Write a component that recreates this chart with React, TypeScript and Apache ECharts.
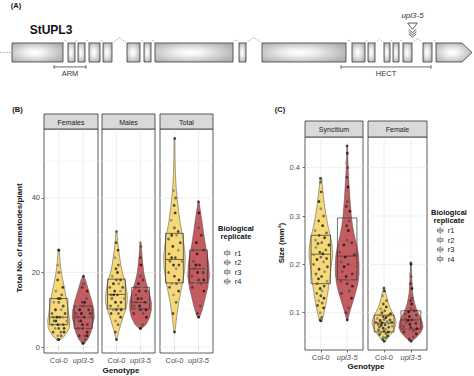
import React, { useEffect, useRef } from 'react';
import * as echarts from 'echarts';

// ---------------- DATA ----------------
const GENOTYPES = ['Col-0', 'upl3-5'];
const REPLICATES = ['r1', 'r2', 'r3', 'r4'];

// Panel A: gene model (positions in gene-drawing units)
const EXONS = [[12, 63], [68, 75], [78, 85], [89, 100], [103, 112], [127, 140], [144, 151], [155, 233], [239, 246], [262, 346], [352, 365], [368, 375], [384, 390], [393, 399], [403, 412], [423, 432], [436, 472]];
const DOMAINS = [['ARM', 54, 86], ['HECT', 341, 431]];
const MUTATION_NAME = 'upl3-5';
const MUTATION_POS = 412.5;

// Panel B
const B_FACETS = ['Females', 'Males', 'Total'];
const B_MAJOR = [0, 20, 40];
const B_MINOR = [10, 30, 50];

const FEMALES_COL0 = [2, 2, 3, 3, 4, 4, 4, 5, 5, 5, 6, 6, 6, 6, 7, 7, 7, 8, 8, 8, 8, 9, 9, 10, 10, 11, 12, 12, 13, 13, 14, 15, 16, 18, 20, 22, 26, 26];
const FEMALES_UPL = [1, 1, 2, 2, 3, 3, 3, 4, 4, 5, 5, 5, 6, 6, 7, 7, 7, 8, 8, 8, 9, 9, 9, 10, 10, 10, 11, 11, 12, 12, 13, 14, 15, 16, 17, 18, 19];
const MALES_COL0 = [2, 4, 6, 7, 8, 9, 9, 10, 10, 10, 11, 11, 12, 12, 13, 13, 14, 14, 14, 15, 15, 16, 16, 17, 17, 18, 18, 19, 20, 21, 22, 24, 26, 28, 31];
const MALES_UPL = [5, 5, 6, 7, 8, 9, 9, 10, 10, 10, 11, 11, 11, 12, 12, 12, 13, 13, 14, 14, 15, 15, 16, 16, 17, 18, 19, 20, 22, 24, 27, 28];
const TOTAL_COL0 = [4, 9, 12, 14, 15, 16, 17, 17, 18, 19, 20, 21, 22, 22, 23, 23, 24, 24, 25, 26, 27, 28, 29, 30, 30, 31, 32, 34, 36, 38, 40, 42, 56];
const TOTAL_UPL = [8, 9, 11, 13, 15, 16, 17, 17, 18, 18, 19, 19, 20, 20, 21, 21, 22, 22, 23, 24, 25, 26, 26, 27, 28, 30, 32, 34, 36, 39];

// box stats [q1, median, q3]
const FEMALES_COL0_BOX = [6, 8, 13];
const FEMALES_UPL_BOX = [5, 8, 11];
const MALES_COL0_BOX = [10.2, 14.1, 18.2];
const MALES_UPL_BOX = [10.2, 12, 16];
const TOTAL_COL0_BOX = [17.2, 23.5, 30.5];
const TOTAL_UPL_BOX = [17.2, 21, 26];

// violin outlines [value, relative half-width]
const FEMALES_COL0_VIOLIN = [[1.9, 0.12], [3, 0.55], [5, 0.95], [7, 1.0], [9, 0.9], [11, 0.8], [13, 0.7], [15, 0.58], [17, 0.44], [19, 0.3], [21, 0.2], [23, 0.12], [26.3, 0.05]];
const FEMALES_UPL_VIOLIN = [[1, 0.12], [2, 0.4], [4, 0.7], [6, 0.85], [8, 1.0], [10, 0.95], [12, 0.8], [14, 0.6], [16, 0.4], [18, 0.2], [19, 0.05]];
const MALES_COL0_VIOLIN = [[2, 0.05], [4, 0.2], [6, 0.4], [8, 0.6], [10, 0.85], [12, 1.0], [14, 1.0], [16, 0.9], [18, 0.75], [20, 0.55], [22, 0.4], [24, 0.3], [26, 0.2], [28, 0.12], [31, 0.05]];
const MALES_UPL_VIOLIN = [[5, 0.1], [6, 0.5], [8, 0.85], [10, 1.0], [12, 1.0], [14, 0.85], [16, 0.65], [18, 0.45], [20, 0.3], [22, 0.22], [24, 0.15], [26, 0.1], [28, 0.04]];
const TOTAL_COL0_VIOLIN = [[4, 0.05], [8, 0.2], [12, 0.4], [15, 0.6], [18, 0.8], [21, 0.95], [24, 1.0], [27, 0.9], [30, 0.75], [33, 0.55], [36, 0.4], [39, 0.28], [42, 0.18], [46, 0.1], [50, 0.06], [56, 0.04]];
const TOTAL_UPL_VIOLIN = [[8, 0.1], [10, 0.35], [13, 0.6], [16, 0.85], [19, 1.0], [22, 0.95], [25, 0.8], [28, 0.6], [31, 0.45], [34, 0.3], [37, 0.15], [39, 0.05]];

// Panel C
const C_FACETS = ['Syncitium', 'Female'];
const C_MAJOR = [0.1, 0.2, 0.3, 0.4];
const C_MINOR = [0.05, 0.15, 0.25, 0.35, 0.45];

const SYN_COL0 = [0.083, 0.085, 0.09, 0.1, 0.11, 0.115, 0.12, 0.125, 0.13, 0.135, 0.14, 0.145, 0.15, 0.155, 0.16, 0.165, 0.17, 0.175, 0.18, 0.185, 0.19, 0.195, 0.2, 0.205, 0.21, 0.212, 0.215, 0.22, 0.222, 0.225, 0.23, 0.235, 0.24, 0.243, 0.245, 0.25, 0.255, 0.26, 0.265, 0.27, 0.28, 0.29, 0.3, 0.315, 0.33, 0.35, 0.37, 0.375, 0.378];
const SYN_UPL = [0.085, 0.1, 0.11, 0.12, 0.13, 0.14, 0.145, 0.15, 0.155, 0.16, 0.165, 0.17, 0.175, 0.18, 0.185, 0.19, 0.195, 0.2, 0.205, 0.21, 0.215, 0.22, 0.225, 0.23, 0.24, 0.245, 0.25, 0.26, 0.27, 0.28, 0.29, 0.3, 0.31, 0.32, 0.33, 0.345, 0.36, 0.38, 0.4, 0.41, 0.43, 0.445];
const FEM_COL0 = [0.041, 0.045, 0.048, 0.05, 0.052, 0.055, 0.057, 0.06, 0.06, 0.062, 0.064, 0.066, 0.068, 0.07, 0.07, 0.072, 0.074, 0.075, 0.076, 0.078, 0.079, 0.08, 0.08, 0.082, 0.084, 0.085, 0.086, 0.088, 0.09, 0.092, 0.094, 0.095, 0.098, 0.1, 0.104, 0.108, 0.112, 0.118, 0.125, 0.135, 0.145, 0.151];
const FEM_UPL = [0.041, 0.045, 0.05, 0.053, 0.056, 0.06, 0.062, 0.065, 0.067, 0.07, 0.072, 0.074, 0.076, 0.078, 0.08, 0.082, 0.084, 0.085, 0.087, 0.09, 0.092, 0.095, 0.097, 0.1, 0.102, 0.104, 0.108, 0.112, 0.118, 0.125, 0.13, 0.14, 0.15, 0.16, 0.175, 0.18, 0.2, 0.203];

const SYN_COL0_BOX = [0.16, 0.221, 0.26];
const SYN_UPL_BOX = [0.168, 0.217, 0.296];
const FEM_COL0_BOX = [0.06, 0.079, 0.095];
const FEM_UPL_BOX = [0.066, 0.085, 0.104];

const SYN_COL0_VIOLIN = [[0.083, 0.1], [0.1, 0.28], [0.12, 0.45], [0.14, 0.58], [0.16, 0.7], [0.18, 0.8], [0.2, 0.9], [0.22, 1.0], [0.24, 0.95], [0.26, 0.8], [0.28, 0.6], [0.3, 0.45], [0.32, 0.32], [0.34, 0.22], [0.36, 0.14], [0.378, 0.06]];
const SYN_UPL_VIOLIN = [[0.085, 0.05], [0.1, 0.2], [0.12, 0.45], [0.14, 0.7], [0.16, 0.9], [0.18, 1.0], [0.2, 1.0], [0.22, 0.95], [0.24, 0.8], [0.26, 0.6], [0.28, 0.45], [0.3, 0.35], [0.33, 0.25], [0.36, 0.17], [0.39, 0.1], [0.42, 0.06], [0.447, 0.03]];
const FEM_COL0_VIOLIN = [[0.041, 0.1], [0.05, 0.4], [0.06, 0.7], [0.07, 0.9], [0.08, 1.0], [0.09, 0.9], [0.1, 0.7], [0.11, 0.5], [0.12, 0.35], [0.13, 0.25], [0.14, 0.15], [0.151, 0.05]];
const FEM_UPL_VIOLIN = [[0.041, 0.1], [0.05, 0.5], [0.06, 0.85], [0.07, 1.0], [0.08, 0.95], [0.09, 0.8], [0.1, 0.6], [0.11, 0.42], [0.12, 0.3], [0.13, 0.22], [0.14, 0.15], [0.16, 0.1], [0.18, 0.06], [0.203, 0.03]];

// ---------------- STYLE / LAYOUT ----------------
const FONT = 'Liberation Sans';
const FILLS = ['#f6d877', '#c65a5e'];
const REP_COLORS = ['#111111', '#2e2e2e', '#4d4d4d', '#7f7f7f'];
const JITTER = [0.1, -0.6, 0.45, -0.2, 0.75, -0.8, 0.3, -0.4, 0.6, 0, -0.7, 0.2, -0.1, 0.5, -0.5, 0.85, -0.3];
const VW = 0.45; // violin max half-width (x units)
const BW = 0.37; // box half-width

const B_PANELS = [[44, 98], [102, 155], [160, 213]];
const B_TOP = 129, B_BOTTOM = 353, B_STRIP = 114;
const B_YMIN = -1.61, B_YMAX = 58.52;
const C_PANELS = [[305, 363], [368, 427]];
const C_TOP = 137, C_BOTTOM = 350, C_STRIP = 121;
const C_YMIN = 0.0228, C_YMAX = 0.4635;

type Group = { pts: number[]; box: number[]; violin: number[][] };
const B_GROUPS: Group[][] = [
  [{ pts: FEMALES_COL0, box: FEMALES_COL0_BOX, violin: FEMALES_COL0_VIOLIN }, { pts: FEMALES_UPL, box: FEMALES_UPL_BOX, violin: FEMALES_UPL_VIOLIN }],
  [{ pts: MALES_COL0, box: MALES_COL0_BOX, violin: MALES_COL0_VIOLIN }, { pts: MALES_UPL, box: MALES_UPL_BOX, violin: MALES_UPL_VIOLIN }],
  [{ pts: TOTAL_COL0, box: TOTAL_COL0_BOX, violin: TOTAL_COL0_VIOLIN }, { pts: TOTAL_UPL, box: TOTAL_UPL_BOX, violin: TOTAL_UPL_VIOLIN }],
];
const C_GROUPS: Group[][] = [
  [{ pts: SYN_COL0, box: SYN_COL0_BOX, violin: SYN_COL0_VIOLIN }, { pts: SYN_UPL, box: SYN_UPL_BOX, violin: SYN_UPL_VIOLIN }],
  [{ pts: FEM_COL0, box: FEM_COL0_BOX, violin: FEM_COL0_VIOLIN }, { pts: FEM_UPL, box: FEM_UPL_BOX, violin: FEM_UPL_VIOLIN }],
];

function hwAt(profile: number[][], v: number) {
  if (v <= profile[0][0]) return profile[0][1];
  for (let i = 1; i < profile.length; i++) {
    const [v1, w1] = profile[i];
    const [v0, w0] = profile[i - 1];
    if (v <= v1) return w0 + ((w1 - w0) * (v - v0)) / (v1 - v0);
  }
  return profile[profile.length - 1][1];
}

function gridSeries(idx: number, major: number[], minor: number[]) {
  const lines: any[] = [];
  major.forEach((v) => lines.push({ v, minor: false, h: true }));
  minor.forEach((v) => lines.push({ v, minor: true, h: true }));
  [1, 2].forEach((v) => lines.push({ v, minor: false, h: false }));
  return {
    type: 'custom', xAxisIndex: idx, yAxisIndex: idx, z: 1, silent: true,
    data: lines.map((l, i) => [i]),
    renderItem: (params: any, api: any) => {
      const l = lines[params.dataIndex];
      const cs = params.coordSys;
      const style = { stroke: l.minor ? '#f3f3f3' : '#ebebeb', lineWidth: l.minor ? 0.5 : 0.8 };
      if (l.h) {
        const y = api.coord([1, l.v])[1];
        return { type: 'line', shape: { x1: cs.x, y1: y, x2: cs.x + cs.width, y2: y }, style };
      }
      const x = api.coord([l.v, 0])[0];
      return { type: 'line', shape: { x1: x, y1: cs.y, x2: x, y2: cs.y + cs.height }, style };
    },
  };
}

function violinSeries(idx: number, groups: Group[]) {
  return {
    type: 'custom', xAxisIndex: idx, yAxisIndex: idx, z: 2, silent: true,
    data: groups.map((g, i) => [i + 1, g.box[1]]),
    renderItem: (params: any, api: any) => {
      const gi = params.dataIndex;
      const g = groups[gi];
      const c = gi + 1;
      const right = g.violin.map(([v, w]) => api.coord([c + w * VW, v]));
      const left = g.violin.slice().reverse().map(([v, w]) => api.coord([c - w * VW, v]));
      const p1 = api.coord([c - BW, g.box[2]]);
      const p2 = api.coord([c + BW, g.box[0]]);
      const m1 = api.coord([c - BW, g.box[1]]);
      const m2 = api.coord([c + BW, g.box[1]]);
      return {
        type: 'group', children: [
          { type: 'polygon', shape: { points: [...right, ...left] }, style: { fill: FILLS[gi], stroke: '#4a4a4a', lineWidth: 0.5 } },
          { type: 'rect', shape: { x: p1[0], y: p1[1], width: p2[0] - p1[0], height: p2[1] - p1[1] }, style: { fill: 'none', stroke: '#333', lineWidth: 0.7 } },
          { type: 'line', shape: { x1: m1[0], y1: m1[1], x2: m2[0], y2: m2[1] }, style: { stroke: '#333', lineWidth: 0.7 } },
        ],
      };
    },
  };
}

function pointSeries(idx: number, groups: Group[]) {
  return REPLICATES.map((name, r) => {
    const data: number[][] = [];
    groups.forEach((g, gi) => {
      g.pts.forEach((v, i) => {
        if (i % 4 !== r) return;
        const off = JITTER[i % JITTER.length] * VW * hwAt(g.violin, v) * 0.85;
        data.push([gi + 1 + off, v]);
      });
    });
    return {
      type: 'scatter', name, xAxisIndex: idx, yAxisIndex: idx, z: 3, silent: true,
      symbolSize: 2.8, data,
      itemStyle: { color: REP_COLORS[r], opacity: 0.8 },
    };
  });
}

const AXIS_LABEL = { fontSize: 7.5, color: '#4d4d4d', fontFamily: FONT };
const ITALIC_RICH = { i: { fontStyle: 'italic', fontSize: 7.5, color: '#4d4d4d', fontFamily: FONT } };

function buildOption() {
  const grids: any[] = [];
  const xAxes: any[] = [];
  const yAxes: any[] = [];
  const series: any[] = [];
  const graphics: any[] = [];

  const addPanel = (x0: number, x1: number, top: number, bottom: number, ymin: number, ymax: number, showY: boolean, yMajor: number[], yMinor: number[], groups: Group[], yFmt: (v: number) => string, yMargin: number) => {
    const idx = grids.length;
    grids.push({ left: x0, top, width: x1 - x0, height: bottom - top, show: true, borderColor: '#333', borderWidth: 0.8, backgroundColor: '#fff' });
    xAxes.push({
      type: 'value', gridIndex: idx, min: 0.4, max: 2.6,
      axisLine: { show: false }, splitLine: { show: false },
      axisTick: { show: true, length: 2.5, customValues: [1, 2], lineStyle: { color: '#333', width: 0.7 } },
      axisLabel: { ...AXIS_LABEL, margin: 3, customValues: [1, 2], formatter: (v: number) => (v === 1 ? GENOTYPES[0] : '{i|' + GENOTYPES[1] + '}'), rich: ITALIC_RICH },
    });
    yAxes.push({
      type: 'value', gridIndex: idx, min: ymin, max: ymax,
      axisLine: { show: false }, splitLine: { show: false },
      axisTick: { show: showY, length: 2.5, customValues: yMajor, lineStyle: { color: '#333', width: 0.7 } },
      axisLabel: { ...AXIS_LABEL, show: showY, margin: yMargin, customValues: yMajor, formatter: yFmt },
    });
    series.push(gridSeries(idx, yMajor, yMinor));
    series.push(violinSeries(idx, groups));
    series.push(...pointSeries(idx, groups));
  };

  B_PANELS.forEach(([x0, x1], i) => addPanel(x0, x1, B_TOP, B_BOTTOM, B_YMIN, B_YMAX, i === 0, B_MAJOR, B_MINOR, B_GROUPS[i], (v) => String(v), 4));
  C_PANELS.forEach(([x0, x1], i) => addPanel(x0, x1, C_TOP, C_BOTTOM, C_YMIN, C_YMAX, i === 0, C_MAJOR, C_MINOR, C_GROUPS[i], (v) => v.toFixed(1), 5));

  // strips
  const strip = (x0: number, x1: number, y0: number, y1: number, label: string) => {
    graphics.push({ type: 'rect', shape: { x: x0, y: y0, width: x1 - x0, height: y1 - y0 }, style: { fill: '#d9d9d9', stroke: '#333', lineWidth: 0.8 }, z: 10 });
    graphics.push({ type: 'text', x: (x0 + x1) / 2, y: (y0 + y1) / 2 + 0.5, style: { text: label, fill: '#1a1a1a', fontSize: 7, fontFamily: FONT, align: 'center', verticalAlign: 'middle' }, z: 11 });
  };
  B_PANELS.forEach(([x0, x1], i) => strip(x0, x1, B_STRIP, B_TOP, B_FACETS[i]));
  C_PANELS.forEach(([x0, x1], i) => strip(x0, x1, C_STRIP, C_TOP, C_FACETS[i]));

  const txt = (x: number, y: number, text: string, size: number, weight: string, extra: any = {}) => ({
    type: 'text', x, y, z: 12, ...extra,
    style: { text, fill: '#111', fontSize: size, fontWeight: weight, fontFamily: FONT, align: 'center', verticalAlign: 'middle', ...(extra.style || {}) },
  });
  graphics.push(txt(16, 5.5, '(A)', 7.5, 'bold'));
  graphics.push(txt(51, 29.5, 'StUPL3', 12, 'bold'));
  graphics.push(txt(17.5, 109.5, '(B)', 7.5, 'bold'));
  graphics.push(txt(280, 109.5, '(C)', 7.5, 'bold'));
  graphics.push(txt(19, 238, 'Total No. of nematodes/plant', 8, 'bold', { rotation: Math.PI / 2 }));
  graphics.push(txt(281, 243, 'Size (mm²)', 8, 'bold', { rotation: Math.PI / 2 }));
  graphics.push(txt(121, 370, 'Genotype', 8, 'bold'));
  graphics.push(txt(366, 366.5, 'Genotype', 8, 'bold'));
  graphics.push(txt(236, 228.5, 'Biological', 7.5, 'bold'));
  graphics.push(txt(236, 236.5, 'replicate', 7.5, 'bold'));
  graphics.push(txt(449, 212, 'Biological', 7.5, 'bold'));
  graphics.push(txt(449, 220, 'replicate', 7.5, 'bold'));

  // gene model grid
  const gIdx = grids.length;
  grids.push({ left: 0, top: 43, width: 474, height: 19, show: false });
  xAxes.push({ type: 'value', gridIndex: gIdx, min: 0, max: 474, show: false });
  yAxes.push({ type: 'value', gridIndex: gIdx, min: 0, max: 1, show: false });

  const exonFill = () => new echarts.graphic.RadialGradient(0.45, 0.5, 0.62, [{ offset: 0, color: '#ffffff' }, { offset: 0.25, color: '#f4f4f4' }, { offset: 1, color: '#b0b0b0' }]);
  // introns + flanking line
  series.push({
    type: 'custom', xAxisIndex: gIdx, yAxisIndex: gIdx, z: 2, silent: true,
    data: EXONS.map((e, i) => [e[0], i]),
    renderItem: (params: any, api: any) => {
      const i = params.dataIndex;
      if (i === 0) {
        const a = api.coord([0, 0.5]);
        const b = api.coord([EXONS[0][0], 0.5]);
        return { type: 'line', shape: { x1: a[0], y1: a[1], x2: b[0], y2: b[1] }, style: { stroke: '#888', lineWidth: 0.7, lineDash: [1.5, 1.5] } };
      }
      const s = EXONS[i - 1][1];
      const e = EXONS[i][0];
      const gap = e - s;
      const peak = 1 + (2 + gap * 0.22) / 19;
      return {
        type: 'polyline',
        shape: { points: [api.coord([s, 1]), api.coord([(s + e) / 2, peak]), api.coord([e, 1])] },
        style: { stroke: '#888', lineWidth: 0.7, lineDash: [1.5, 1.2], fill: null },
      };
    },
  });
  // exons
  series.push({
    type: 'custom', xAxisIndex: gIdx, yAxisIndex: gIdx, z: 3, silent: true,
    data: EXONS.map((e) => [e[0], 0]),
    renderItem: (params: any, api: any) => {
      const [s, e] = EXONS[params.dataIndex];
      const last = params.dataIndex === EXONS.length - 1;
      const style = { fill: exonFill(), stroke: '#3a3a3a', lineWidth: 0.8 };
      if (last) {
        const tip = e - 10;
        return { type: 'polygon', shape: { points: [api.coord([s, 1]), api.coord([tip, 1]), api.coord([e, 0.5]), api.coord([tip, 0]), api.coord([s, 0])] }, style };
      }
      const p1 = api.coord([s, 1]);
      const p2 = api.coord([e, 0]);
      return { type: 'rect', shape: { x: p1[0], y: p1[1], width: p2[0] - p1[0], height: p2[1] - p1[1] }, style };
    },
  });
  // domains
  series.push({
    type: 'custom', xAxisIndex: gIdx, yAxisIndex: gIdx, z: 3, silent: true,
    data: DOMAINS.map((d) => [d[1], 0]),
    renderItem: (params: any, api: any) => {
      const [name, s, e] = DOMAINS[params.dataIndex] as [string, number, number];
      const a = api.coord([s, -0.26]);
      const b = api.coord([e, -0.26]);
      const st = { stroke: '#444', lineWidth: 0.8 };
      return {
        type: 'group', children: [
          { type: 'line', shape: { x1: a[0], y1: a[1], x2: b[0], y2: b[1] }, style: st },
          { type: 'line', shape: { x1: a[0], y1: a[1] - 1.8, x2: a[0], y2: a[1] + 1.8 }, style: st },
          { type: 'line', shape: { x1: b[0], y1: b[1] - 1.8, x2: b[0], y2: b[1] + 1.8 }, style: st },
          { type: 'text', x: (a[0] + b[0]) / 2, y: api.coord([s, -0.6])[1], style: { text: name, fill: '#333', fontSize: 7.5, fontFamily: FONT, align: 'center', verticalAlign: 'middle' } },
        ],
      };
    },
  });
  // mutation marker
  series.push({
    type: 'custom', xAxisIndex: gIdx, yAxisIndex: gIdx, z: 4, silent: true,
    data: [[MUTATION_POS, 2]],
    renderItem: (params: any, api: any) => {
      const x = MUTATION_POS;
      const st = { stroke: '#333', lineWidth: 0.8, fill: null };
      const chev = (yv: number) => ({ type: 'polyline', shape: { points: [api.coord([x - 3.8, yv]), api.coord([x, yv - 0.17]), api.coord([x + 3.8, yv])] }, style: st });
      return {
        type: 'group', children: [
          { type: 'polygon', shape: { points: [api.coord([x - 4.8, 2.05]), api.coord([x + 4.8, 2.05]), api.coord([x, 1.72])] }, style: { stroke: '#333', lineWidth: 0.8, fill: '#fff' } },
          chev(1.72), chev(1.6), chev(1.48),
          { type: 'text', x: api.coord([x, 0])[0], y: api.coord([x, 2.47])[1], style: { text: MUTATION_NAME, fill: '#333', fontSize: 8, fontStyle: 'italic', fontFamily: FONT, align: 'center', verticalAlign: 'middle' } },
        ],
      };
    },
  });

  const BOX_ICON = 'path://M1,3L9,3L9,7L1,7Z M1,5L9,5 M5,0L5,3 M5,7L5,10';
  const legendBase = {
    data: REPLICATES, orient: 'vertical', itemWidth: 7, itemHeight: 7, itemGap: 1.5, icon: BOX_ICON, padding: 0,
    selectedMode: false, align: 'left',
    itemStyle: { color: '#fff', borderColor: '#555', borderWidth: 0.8 },
    textStyle: { fontSize: 7.5, color: '#1a1a1a', fontFamily: FONT, lineHeight: 7, padding: [0, 0, 0, -1] },
  };

  return {
    animation: false,
    backgroundColor: '#fff',
    textStyle: { fontFamily: FONT },
    grid: grids,
    xAxis: xAxes,
    yAxis: yAxes,
    legend: [
      { ...legendBase, left: 224, top: 249 },
      { ...legendBase, left: 437, top: 226.5 },
    ],
    series,
    graphic: graphics,
  };
}

export default function App() {
  const ref = useRef<HTMLDivElement>(null);
  useEffect(() => {
    if (!ref.current) return;
    const chart = echarts.init(ref.current, null, { renderer: 'svg' });
    chart.setOption(buildOption() as any);
    return () => chart.dispose();
  }, []);
  return <div ref={ref} style={{ position: 'fixed', left: 0, top: 0, width: 474, height: 376 }} />;
}
